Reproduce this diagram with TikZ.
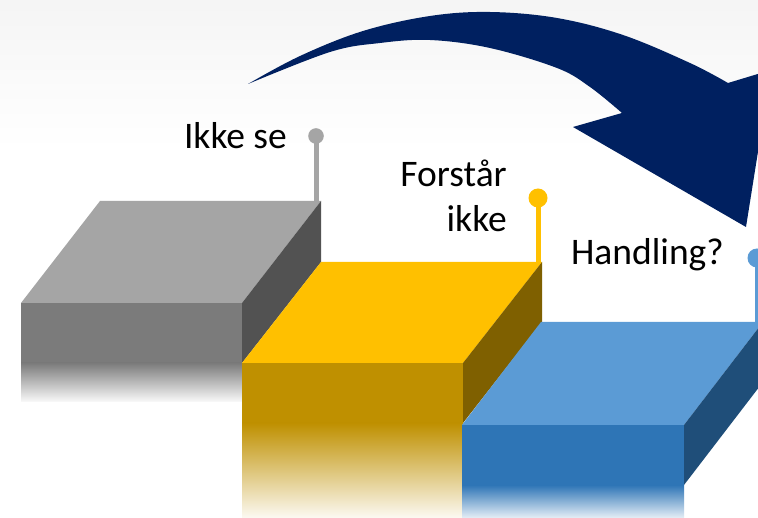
\documentclass[tikz,border=0pt]{standalone}
\usepackage{fontspec}
\setmainfont{Carlito}
\definecolor{gtop}{HTML}{A5A5A5}
\definecolor{gfront}{HTML}{7B7B7B}
\definecolor{gside}{HTML}{525252}
\definecolor{ytop}{HTML}{FFC000}
\definecolor{yfront}{HTML}{BF9000}
\definecolor{yside}{HTML}{7F6000}
\definecolor{btop}{HTML}{5B9BD5}
\definecolor{bfront}{HTML}{2E75B6}
\definecolor{bside}{HTML}{1F4E79}
\definecolor{navy}{HTML}{002060}
\begin{document}
\begin{tikzpicture}[x=1pt,y=-1pt,
  lbl/.style={font=\fontsize{37.5}{45}\selectfont, inner sep=0pt, text=black},
  pinstem/.style={line width=5pt}]
\clip (0,0) rectangle (758,518);
\fill[white] (0,0) rectangle (758,518);
\shade[top color=black!4, bottom color=white] (0,0) rectangle (758,150);

% pins
\draw[pinstem, gtop] (316,136) -- (316,202);
\fill[gtop] (316,136) circle (7.8);
\draw[pinstem, ytop] (538,198) -- (538,263);
\fill[ytop] (538,198) circle (9.5);
\draw[pinstem, btop] (757,258) -- (757,323);
\fill[btop] (757,258) circle (9.5);

% grey block
\fill[gtop] (21,303) -- (100,201) -- (321,201) -- (242,303) -- cycle;
\fill[gfront] (21,303) rectangle (242,363);
\fill[gside] (242,303) -- (321,201) -- (321,262) -- (242,363) -- cycle;
\shade[top color=gfront, middle color=gfront!45!white, bottom color=black!2] (21,363) rectangle (242,402);

% yellow block
\fill[ytop] (242,363) -- (321,262) -- (542,262) -- (463,363) -- cycle;
\fill[yfront] (242,363) rectangle (463,423);
\fill[yside] (463,363) -- (542,262) -- (542,322) -- (463,423) -- cycle;
\shade[top color=yfront, middle color=yfront!45!white, bottom color=yfront!5!white] (242,423) rectangle (463,518);

% blue block
\fill[btop] (462,425) -- (541,322) -- (763,322) -- (684,425) -- cycle;
\fill[bfront] (462,425) rectangle (684,485);
\fill[bside] (684,425) -- (763,322) -- (763,382) -- (684,485) -- cycle;
\shade[top color=bfront, middle color=bfront!45!white, bottom color=bfront!12!white] (462,485) rectangle (684,518);

% labels
\node[lbl, anchor=base east] (ikkese) at (287,149) {Ikke se};
\node[lbl, anchor=base east] (forstaar) at (507,187) {Forstår};
\node[lbl, anchor=base east] (ikke) at (507,232) {ikke};
\node[lbl, anchor=base east] (handling) at (724,265) {Handling?};

% curved arrow
\fill[navy] plot[smooth, tension=0.6] coordinates {(248,84) (300,56) (363,31) (430,16) (490,12) (557,18) (623,35) (690,63) (728,83)}
  -- (771,70) -- (746,227) -- (573,127) -- (622,113)
  -- plot[smooth, tension=0.6] coordinates {(622,113) (590,87) (557,68) (490,48) (430,40) (380,43) (330,52) (248,84)} -- cycle;
\end{tikzpicture}
\end{document}
